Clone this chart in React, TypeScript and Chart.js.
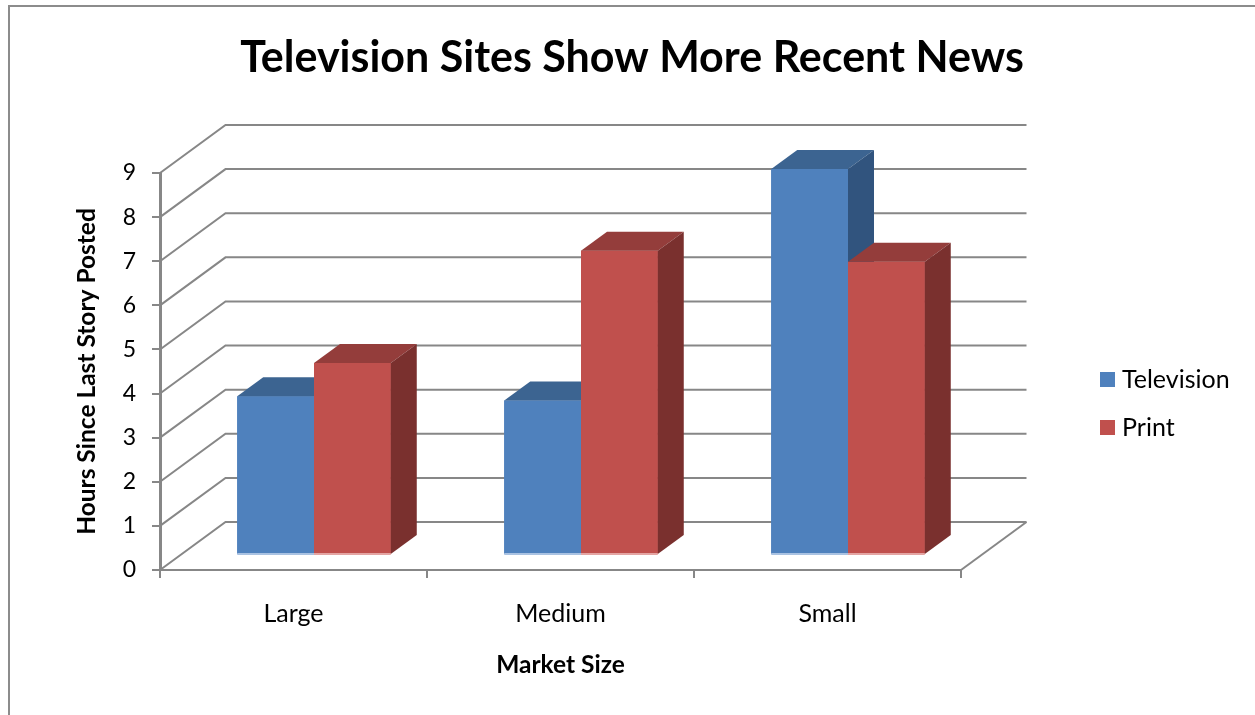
import React, { useEffect, useRef } from 'react';
import { Chart, registerables } from 'chart.js';

Chart.register(...registerables);

// ---- data ----
const TITLE = 'Television Sites Show More Recent News';
const X_TITLE = 'Market Size';
const Y_TITLE = 'Hours Since Last Story Posted';
const CATEGORIES = ['Large', 'Medium', 'Small'];
const SERIES_NAMES = ['Television', 'Print'];
const TELEVISION = [3.6, 3.5, 8.75];
const PRINT = [4.35, 6.9, 6.65];
const Y_MIN = 0;
const Y_MAX = 9;
const Y_STEP = 1;

// ---- styles ----
const FRONT = ['#4F81BD', '#C0504D'];
const TOP = ['#3C6491', '#943D3B'];
const SIDE = ['#31547E', '#7A302E'];
const EDGE = ['#A9C2E2', '#E4A5A3'];
const GRID = '#878787';
const FONT = 'Lato, "Open Sans", sans-serif';

const W = 1255;
const H = 715;
const WALL_DX = 65.5;
const WALL_DY = -48;
const BAR_OFF_DX = 20.5;
const BAR_OFF_DY = -15;
const BAR_DX = 26;
const BAR_DY = -19;

const threeD = {
  id: 'threeD',
  beforeDraw(chart: any) {
    const ctx = chart.ctx;
    ctx.save();
    ctx.fillStyle = '#ffffff';
    ctx.fillRect(0, 0, W, H);
    // outer frame
    ctx.strokeStyle = '#8c8c8c';
    ctx.lineWidth = 2;
    ctx.beginPath();
    ctx.moveTo(9, H);
    ctx.lineTo(9, 6);
    ctx.lineTo(W, 6);
    ctx.stroke();
    ctx.restore();
  },
  afterDraw(chart: any) {
    const ctx = chart.ctx;
    const a = chart.chartArea;
    ctx.save();
    ctx.fillStyle = '#000000';
    // title
    ctx.font = `bold 43px ${FONT}`;
    ctx.textAlign = 'center';
    ctx.textBaseline = 'alphabetic';
    ctx.fillText(TITLE, 632, 72);
    // x title
    ctx.font = `bold 24.5px ${FONT}`;
    ctx.fillText(X_TITLE, (a.left + a.right) / 2, 673);
    // y title
    ctx.save();
    ctx.translate(95, (a.top + a.bottom) / 2);
    ctx.rotate(-Math.PI / 2);
    ctx.fillText(Y_TITLE, 0, 0);
    ctx.restore();
    // legend
    ctx.font = `25px ${FONT}`;
    ctx.textAlign = 'left';
    chart.data.datasets.forEach((ds: any, i: number) => {
      const yTop = 372 + i * 48;
      ctx.fillStyle = ds.backgroundColor;
      ctx.fillRect(1100, yTop, 15, 15);
      ctx.fillStyle = '#000000';
      ctx.fillText(ds.label, 1122, yTop + 16);
    });
    ctx.restore();
  },
  beforeDatasetsDraw(chart: any) {
    const ctx = chart.ctx;
    const a = chart.chartArea;
    const y = chart.scales.y;
    ctx.save();
    ctx.strokeStyle = GRID;
    ctx.lineWidth = 2;
    for (let v = Y_MIN; v <= Y_MAX; v += Y_STEP) {
      const py = y.getPixelForValue(v);
      ctx.beginPath();
      ctx.moveTo(a.left, py);
      ctx.lineTo(a.left + WALL_DX, py + WALL_DY);
      ctx.lineTo(a.right + WALL_DX, py + WALL_DY);
      ctx.stroke();
    }
    ctx.beginPath();
    ctx.moveTo(a.right, a.bottom);
    ctx.lineTo(a.right + WALL_DX, a.bottom + WALL_DY);
    ctx.stroke();
    ctx.restore();
    ctx.save();
    ctx.translate(BAR_OFF_DX, BAR_OFF_DY);
  },
  afterDatasetsDraw(chart: any) {
    const ctx = chart.ctx;
    // redraw in series order so that each bar covers the faces of the one left of it
    chart.data.datasets.forEach((_ds: any, i: number) => {
      const meta = chart.getDatasetMeta(i);
      meta.data.forEach((el: any) => {
        el.draw(ctx);
        const p = el.getProps(['x', 'y', 'base', 'width'], true);
        const l = p.x - p.width / 2;
        const r = p.x + p.width / 2;
        const t = p.y;
        const b = p.base;
        // top face
        ctx.fillStyle = TOP[i];
        ctx.beginPath();
        ctx.moveTo(l, t);
        ctx.lineTo(l + BAR_DX, t + BAR_DY);
        ctx.lineTo(r + BAR_DX, t + BAR_DY);
        ctx.lineTo(r, t);
        ctx.closePath();
        ctx.fill();
        // side face
        ctx.fillStyle = SIDE[i];
        ctx.beginPath();
        ctx.moveTo(r, t);
        ctx.lineTo(r + BAR_DX, t + BAR_DY);
        ctx.lineTo(r + BAR_DX, b + BAR_DY);
        ctx.lineTo(r, b);
        ctx.closePath();
        ctx.fill();
        // bottom edge highlight
        ctx.fillStyle = EDGE[i];
        ctx.fillRect(l, b - 1, r - l, 2);
      });
    });
    ctx.restore();
  },
};

export default function App() {
  const ref = useRef<HTMLCanvasElement | null>(null);
  useEffect(() => {
    if (!ref.current) return;
    Chart.defaults.font.family = FONT;
    const chart = new Chart(ref.current, {
      type: 'bar',
      data: {
        labels: CATEGORIES,
        datasets: [
          { label: SERIES_NAMES[0], data: TELEVISION, backgroundColor: FRONT[0], clip: false as any },
          { label: SERIES_NAMES[1], data: PRINT, backgroundColor: FRONT[1], clip: false as any },
        ],
      },
      plugins: [threeD as any],
      options: {
        responsive: false,
        animation: false,
        devicePixelRatio: 1,
        events: [],
        layout: { padding: { left: 10, right: 294, top: 173, bottom: 85 } },
        datasets: { bar: { barPercentage: 1, categoryPercentage: 0.575 } },
        plugins: {
          legend: { display: false },
          title: { display: false },
          tooltip: { enabled: false },
        },
        scales: {
          x: {
            afterFit: (s: any) => { s.height = 60; },
            grid: { drawOnChartArea: false, drawTicks: true, tickLength: 8, color: GRID, lineWidth: 2, offset: true },
            border: { display: true, color: GRID, width: 2 },
            ticks: { color: '#000000', font: { size: 25, family: FONT }, padding: 21, maxRotation: 0 },
          },
          y: {
            min: Y_MIN,
            max: Y_MAX,
            afterFit: (s: any) => { s.width = 150; },
            grid: { drawOnChartArea: false, drawTicks: true, tickLength: 8, color: GRID, lineWidth: 2 },
            border: { display: true, color: GRID, width: 3 },
            ticks: { stepSize: Y_STEP, color: '#000000', font: { size: 23, family: FONT }, padding: 16 },
          },
        },
      },
    });
    return () => chart.destroy();
  }, []);
  return (
    <div style={{ position: 'fixed', left: 0, top: 0, width: W, height: H, background: '#fff' }}>
      <canvas ref={ref} width={W} height={H} style={{ width: W, height: H, display: 'block' }} />
    </div>
  );
}
